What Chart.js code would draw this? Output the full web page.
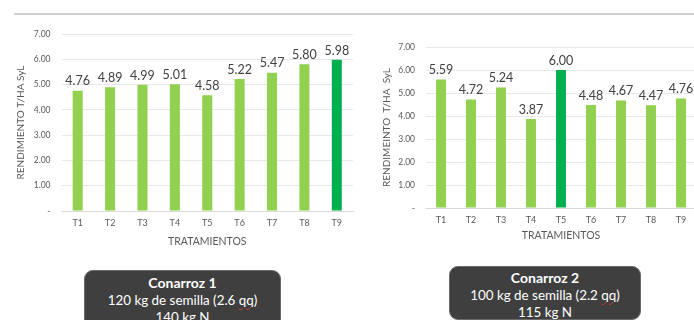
<!DOCTYPE html>
<html>
<head>
<meta charset="utf-8">
<script src="https://cdn.jsdelivr.net/npm/chart.js@4.4.1/dist/chart.umd.min.js"></script>
<style>
  html, body { margin: 0; padding: 0; background: #fff; overflow: hidden; }
  body { width: 694px; height: 320px; position: relative; font-family: Lato, "Open Sans", sans-serif; }
  .topline { position: absolute; left: 14px; top: 13px; width: 690px; height: 2px; background: #cfcfcf; }
  .chart { position: absolute; top: 0; }
  #c1wrap { left: 0; width: 360px; height: 250px; }
  #c2wrap { left: 360px; width: 340px; height: 250px; }
  .box {
    position: absolute; background: #3f3f3f; border: 1px solid #6a6a6a; border-radius: 9px;
    color: #fff; text-align: center; font-family: Lato, "Open Sans", sans-serif;
  }
  .box .t { font-weight: bold; font-size: 14px; line-height: 17.5px; }
  .box .l { font-size: 13.4px; line-height: 17.5px; }
  .sq { text-decoration: underline wavy #d33; text-decoration-thickness: 1px; }
</style>
</head>
<body>
<div class="topline"></div>
<div class="chart" id="c1wrap"><canvas id="c1"></canvas></div>
<div class="chart" id="c2wrap"><canvas id="c2"></canvas></div>

<div class="box" style="left:84px; top:270px; width:195px; height:60px;">
  <div class="t" style="margin-top:3px">Conarroz 1</div>
  <div class="l">120 kg de semilla (2.6 <span class="sq">qq</span>)</div>
  <div class="l">140 kg N</div>
</div>
<div class="box" style="left:449px; top:266px; width:190px; height:52px;">
  <div class="t" style="margin-top:2px">Conarroz 2</div>
  <div class="l">100 kg de semilla (2.2 <span class="sq">qq</span>)</div>
  <div class="l">115 kg N</div>
</div>

<script>
const categories = ['T1', 'T2', 'T3', 'T4', 'T5', 'T6', 'T7', 'T8', 'T9'];
const conarroz1 = [4.76, 4.89, 4.99, 5.01, 4.58, 5.22, 5.47, 5.80, 5.98];
const conarroz2 = [5.59, 4.72, 5.24, 3.87, 6.00, 4.48, 4.67, 4.47, 4.76];
const best1 = 8; // T9 highlighted
const best2 = 4; // T5 highlighted

const light = '#92D050';
const dark = '#00B050';
const textGrey = '#595959';

// draws the value above each bar
const valueLabels = {
  id: 'valueLabels',
  afterDatasetsDraw(chart) {
    const ctx = chart.ctx;
    const meta = chart.getDatasetMeta(0);
    ctx.save();
    ctx.font = '12.5px Lato, "Open Sans", sans-serif';
    ctx.fillStyle = '#404040';
    ctx.textAlign = 'center';
    ctx.textBaseline = 'bottom';
    meta.data.forEach((bar, i) => {
      const v = chart.data.datasets[0].data[i];
      ctx.fillText(v.toFixed(2), bar.x, bar.y - 3);
    });
    ctx.restore();
  }
};

function makeChart(id, values, best, yTitle, opts) {
  const colors = values.map((v, i) => i === best ? dark : light);
  return new Chart(document.getElementById(id), {
    type: 'bar',
    data: {
      labels: categories,
      datasets: [{ data: values, backgroundColor: colors, borderWidth: 0, barPercentage: opts.barPct, categoryPercentage: 1 }]
    },
    options: {
      responsive: true,
      maintainAspectRatio: false,
      animation: false,
      layout: { padding: { top: opts.top, left: 0, right: opts.right, bottom: 0 } },
      plugins: { legend: { display: false }, tooltip: { enabled: false } },
      scales: {
        x: {
          grid: { display: false, drawTicks: false },
          border: { color: '#d9d9d9' },
          ticks: { color: textGrey, font: { family: 'Lato', size: 9 }, padding: opts.xTickPad },
          title: { display: true, text: 'TRATAMIENTOS', color: textGrey, font: { family: 'Lato', size: 10.5 }, padding: { top: 0, bottom: opts.xTitlePad } },
          afterFit(scale) { scale.height = opts.xh; }
        },
        y: {
          min: 0, max: 7,
          ticks: {
            stepSize: 1, color: textGrey, font: { family: 'Lato', size: 8.5 }, padding: opts.tickPad,
            callback: v => v === 0 ? '-' : v.toFixed(2)
          },
          grid: { color: '#e8e8e8', drawTicks: false },
          border: { display: false },
          title: { display: true, text: yTitle, color: textGrey, font: { family: 'Lato', size: 10 }, padding: { top: opts.yTitlePad, bottom: 0 } },
          afterFit(scale) { scale.width = opts.yw; }
        }
      }
    },
    plugins: [valueLabels]
  });
}

makeChart('c1', conarroz1, best1, 'RENDIMIENTO T/HA SyL',
  { top: 34, right: 7, xh: 39, yw: 61.5, tickPad: 11, barPct: 0.31, xTickPad: 7, xTitlePad: 2, yTitlePad: 15 });
makeChart('c2', conarroz2, best2, 'RENDIMEINTO  T/HA  SyL',
  { top: 47, right: 4, xh: 42, yw: 66, tickPad: 11, barPct: 0.33, xTickPad: 7, xTitlePad: 8, yTitlePad: 21 });
</script>
</body>
</html>
